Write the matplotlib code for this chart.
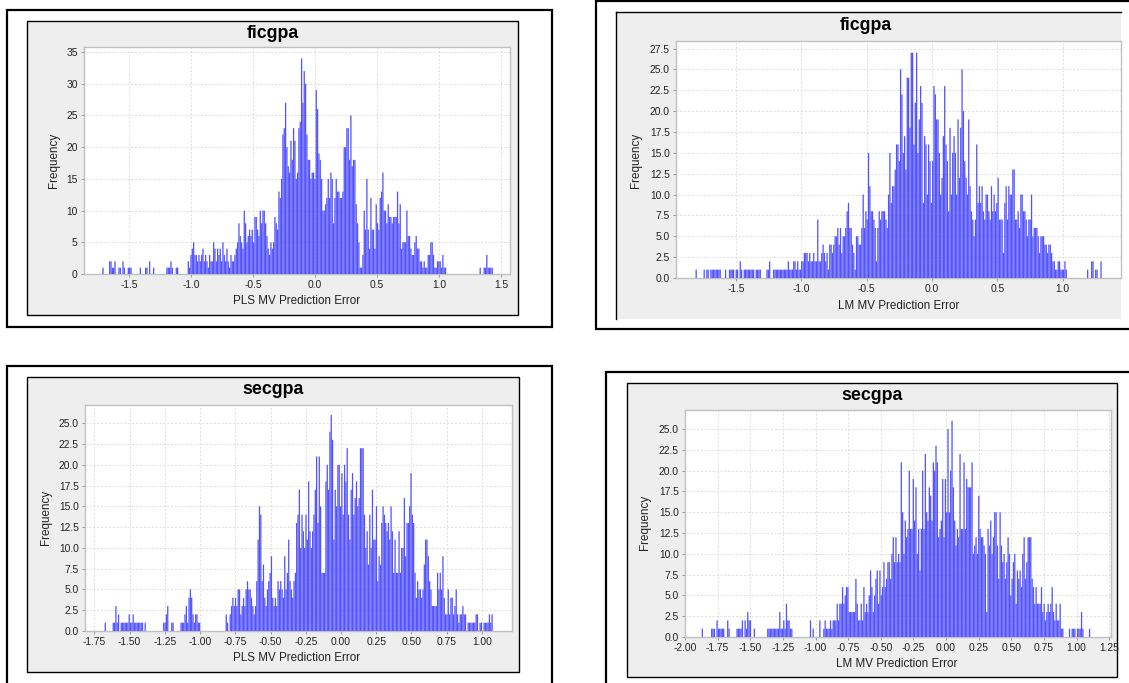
import numpy as np
import matplotlib
matplotlib.use("Agg")
import matplotlib.pyplot as plt
from matplotlib.patches import Rectangle

plt.rcParams['font.family'] = ['Liberation Sans', 'DejaVu Sans']

W, H = 1129, 683

# ---- frequency per histogram bin ----
fic_pls_freq = [
 1,0,0,0,0,2,2,1,1,2,0,0,1,1,0,2,1,0,0,1,1,1,0,0,0,0,0,0,1,0,0,0,1,1,0,2,0,0,1,
 0,0,0,0,0,0,0,0,0,1,1,1,2,1,0,0,1,1,0,0,0,0,0,0,0,2,
 1,3,4,5,3,3,2,3,2,3,4,2,3,2,1,3,2,2,
 5,4,2,4,3,4,2,5,3,2,4,2,1,3,2,2,3,4,
 5,8,6,5,4,10,8,5,6,7,6,7,5,9,9,7,6,10,8,10,10,8,6,4,
 3,5,4,5,9,8,7,13,12,15,22,23,27,20,17,16,21,18,23,21,15,16,23,24,34,27,32,30,22,18,18,15,16,16,15,
 29,26,19,18,15,10,10,11,12,15,12,16,15,8,12,15,13,13,12,12,13,20,20,23,23,18,25,17,18,18,11,8,5,1,1,3,
 10,7,15,7,4,12,7,7,4,11,8,7,12,13,16,10,10,8,11,9,9,8,9,9,9,13,8,11,4,5,5,5,10,6,6,4,3,3,5,6,4,4,2,2,1,2,
 1,1,3,3,5,5,3,1,1,2,2,2,1,3,1,1,
 0,0,0,0,0,0,0,0,0,0,0,0,0,0,0,0,0,0,0,0,0,0,0,0,0,1,0,0,1,1,3,1,1,1,1]

fic_lm_freq = [
 1,0,0,0,0,0,1,0,1,1,0,1,1,1,1,1,1,1,1,0,0,0,1,0,0,1,1,1,1,0,1,1,0,2,1,0,1,1,1,1,1,1,1,1,0,1,1,1,1,
 0,0,0,0,1,1,2,0,0,1,1,1,1,1,1,1,1,1,1,1,2,1,1,1,2,2,1,2,1,1,2,2,3,3,3,2,3,2,2,3,2,2,7,2,2,3,4,3,2,3,1,
 4,4,3,4,5,5,6,4,6,3,5,5,6,8,9,6,6,4,3,1,5,5,4,4,6,10,6,8,7,15,11,8,8,7,6,2,6,8,7,8,8,8,7,6,10,15,9,11,11,13,
 16,16,14,25,22,15,17,13,24,24,18,27,27,16,21,27,15,19,23,21,9,17,16,10,16,14,9,14,23,22,19,19,15,10,12,17,23,16,14,8,18,10,15,17,15,10,19,12,18,25,20,14,12,10,19,11,
 8,7,5,7,16,9,11,9,11,8,7,10,10,8,7,11,8,10,8,9,12,7,7,7,3,9,11,7,11,10,10,13,13,7,7,8,6,10,10,8,8,7,5,7,7,10,5,6,6,6,5,3,5,5,5,4,4,3,4,4,3,2,2,1,1,2,2,1,1,1,2,1,
 0,0,0,0,0,0,0,0,0,0,0,0,0,0,0,1,0,0,2,2,0,1,1,0,0,2]

sec_pls_freq = [
 1,0,0,0,0,0,1,1,3,1,2,0,1,1,1,1,1,1,2,1,1,2,1,1,1,1,1,1,1,0,1,0,
 0,0,0,0,0,0,0,0,0,0,0,0,1,1,2,3,0,0,1,1,0,0,0,0,0,1,1,1,2,3,1,4,5,4,2,1,2,2,1,1,
 0,0,0,0,0,0,0,0,0,0,0,0,0,0,0,0,0,0,0,2,1,0,2,3,4,3,4,3,5,5,2,3,4,3,5,6,5,5,4,3,2,3,6,11,15,14,6,8,4,3,5,6,7,9,4,3,4,3,6,5,6,5,4,9,5,7,11,6,5,4,6,7,
 13,14,17,10,14,12,10,14,11,18,12,10,12,14,17,21,13,21,15,7,7,7,18,20,17,24,26,23,11,17,15,20,20,15,19,14,20,18,22,14,11,17,19,14,16,18,15,16,22,22,22,14,10,12,8,14,10,17,11,11,15,6,9,8,13,15,14,13,12,13,11,15,12,7,11,7,7,12,7,10,10,16,9,13,13,15,19,14,13,7,
 4,6,5,5,4,5,8,11,11,9,6,5,3,3,3,3,7,5,7,5,9,4,2,2,5,2,4,4,2,3,5,2,1,2,2,3,2,2,0,1,1,1,1,1,1,2,2,0,1,1,0,1,1,1,1,2,1,2]

sec_lm_freq = [
 1,0,0,0,0,0,0,1,1,1,0,2,1,1,1,1,1,0,0,2,1,0,0,0,0,0,1,1,1,1,2,0,2,1,3,2,2,0,0,1,
 0,0,0,0,0,0,0,0,0,1,1,1,1,1,1,1,1,1,3,1,1,2,1,4,2,2,1,1,
 0,0,0,0,0,0,0,0,0,0,0,0,0,2,0,1,0,0,0,0,2,0,0,1,2,1,1,1,2,1,2,2,2,4,2,4,4,6,4,5,6,6,3,3,3,3,3,7,4,2,2,4,2,6,3,4,3,5,8,6,3,5,7,8,4,8,5,6,9,6,7,9,9,7,10,12,9,12,9,10,9,
 21,15,10,14,12,13,20,13,13,19,14,18,10,13,8,13,20,13,22,15,14,18,17,14,21,20,23,21,12,13,14,19,12,19,15,25,15,20,26,18,14,11,13,12,22,13,13,21,13,19,18,18,18,21,10,11,12,10,17,13,12,12,11,10,3,13,11,14,10,12,
 15,15,11,7,15,11,9,10,7,9,12,10,5,7,9,10,4,8,7,8,6,10,12,7,9,12,12,12,7,6,4,6,4,4,4,6,3,4,2,3,4,3,4,6,3,2,4,2,2,4,1,1,0,0,0,0,1,0,1,1,1,0,1,1,1,3,1,0,0,0,0,1]

bin_start = [-1.7097, -1.8056, -1.6722, -1.8670]
bin_width = [0.01075, 0.01023, 0.00943, 0.01023]
tick_pls_fic = [-1.5, -1.0, -0.5, 0.0, 0.5, 1.0, 1.5]
tick_lm_fic = [-1.5, -1.0, -0.5, 0.0, 0.5, 1.0]
tick_pls_sec = [-1.75, -1.5, -1.25, -1.0, -0.75, -0.5, -0.25, 0.0, 0.25, 0.5, 0.75, 1.0]
tick_lm_sec = [-2.0, -1.75, -1.5, -1.25, -1.0, -0.75, -0.5, -0.25, 0.0, 0.25, 0.5, 0.75, 1.0, 1.25]

panels = [
 dict(freq=fic_pls_freq, start=bin_start[0], w=bin_width[0], title='ficgpa', xlabel='PLS MV Prediction Error',
      frame=(7, 10, 552, 327), chart=(27, 21, 518, 315), plot=(84, 47, 510, 274),
      xlim=(-1.863, 1.573), ylim=(0, 35.8), xt=tick_pls_fic, xf='%.1f', yt=np.arange(0, 36, 5), yf='%d',
      tpos=(273, 33), xlpos=(297, 301), ylpos=(54, 160)),
 dict(freq=fic_lm_freq, start=bin_start[1], w=bin_width[1], title='ficgpa', xlabel='LM MV Prediction Error',
      frame=(596, 1, 1140, 329), chart=(616, 12, 1121, 319), plot=(676, 41, 1121, 278),
      xlim=(-1.960, 1.447), ylim=(0, 28.4), xt=tick_lm_fic, xf='%.1f', yt=np.arange(0, 28, 2.5), yf='%.1f',
      tpos=(866, 26), xlpos=(899, 306), ylpos=(636, 160)),
 dict(freq=sec_pls_freq, start=bin_start[2], w=bin_width[2], title='secgpa', xlabel='PLS MV Prediction Error',
      frame=(7, 366, 552, 690), chart=(27, 377, 519, 672), plot=(85, 405, 512, 631),
      xlim=(-1.816, 1.213), ylim=(0, 27.2), xt=tick_pls_sec, xf='%.2f', yt=np.arange(0, 26, 2.5), yf='%.1f',
      tpos=(273, 389), xlpos=(297, 658), ylpos=(46, 517)),
 dict(freq=sec_lm_freq, start=bin_start[3], w=bin_width[3], title='secgpa', xlabel='LM MV Prediction Error',
      frame=(606, 372, 1140, 690), chart=(627, 383, 1117, 677), plot=(685, 410, 1111, 637),
      xlim=(-2.0, 1.264), ylim=(0, 27.3), xt=tick_lm_sec, xf='%.2f', yt=np.arange(0, 26, 2.5), yf='%.1f',
      tpos=(872, 395), xlpos=(897, 664), ylpos=(645, 522)),
]

fig = plt.figure(figsize=(W / 100, H / 100), dpi=100, facecolor='white')


def fx(x):
    return x / W


def fy(y):
    return 1 - y / H


def rect(box, **kw):
    x0, y0, x1, y1 = box
    fig.add_artist(Rectangle((fx(x0), fy(y1)), (x1 - x0) / W, (y1 - y0) / H,
                             transform=fig.transFigure, zorder=-5, **kw))


for p in panels:
    rect(p['frame'], facecolor='white', edgecolor='black', linewidth=1.6)
    is_cut = p['chart'][2] == 1121
    rect(p['chart'], facecolor='#EEEEEE', edgecolor='none' if is_cut else 'black', linewidth=1.0)
    if is_cut:
        x0, y0, x1, y1 = p['chart']
        fig.add_artist(plt.Line2D([fx(x0), fx(x0)], [fy(y1), fy(y0)], color='black', lw=1.0, zorder=-4))
        fig.add_artist(plt.Line2D([fx(x0), fx(x1)], [fy(y0), fy(y0)], color='black', lw=1.0, zorder=-4))

    x0, y0, x1, y1 = p['plot']
    ax = fig.add_axes([fx(x0), fy(y1), (x1 - x0) / W, (y1 - y0) / H], facecolor='white')
    ax.set_zorder(5)
    freq = np.array(p['freq'], dtype=float)
    centers = p['start'] + np.arange(len(freq)) * p['w']
    bars = ax.bar(centers, freq, width=p['w'] * 0.96, color='#5454FF', linewidth=0, zorder=3)
    for b in bars:
        b.set_snap(False)
    ax.set_xlim(*p['xlim'])
    ax.set_ylim(*p['ylim'])
    ax.set_xticks(p['xt'])
    ax.set_xticklabels([p['xf'] % v for v in p['xt']])
    ax.set_yticks(p['yt'])
    ax.set_yticklabels([p['yf'] % v for v in p['yt']])
    ax.tick_params(axis='both', labelsize=7.4, length=2, width=0.6, color='#888888',
                   labelcolor='#222222', pad=2.5)
    ax.grid(True, color='#DCDCDC', linestyle=(0, (2, 2)), linewidth=0.7, zorder=1)
    ax.set_axisbelow(True)
    for s in ax.spines.values():
        s.set_color('#C0C0C0')
        s.set_linewidth(1.0)

    fig.text(fx(p['tpos'][0]), fy(p['tpos'][1]), p['title'], ha='center', va='center',
             fontsize=12.8, fontweight='bold', color='black', zorder=6)
    fig.text(fx(p['xlpos'][0]), fy(p['xlpos'][1]), p['xlabel'], ha='center', va='center',
             fontsize=8.4, color='#222222', zorder=6)
    fig.text(fx(p['ylpos'][0]), fy(p['ylpos'][1]), 'Frequency', ha='center', va='center',
             rotation=90, fontsize=8.4, color='#222222', zorder=6)

fig.savefig('out.png', dpi=100, facecolor='white')
